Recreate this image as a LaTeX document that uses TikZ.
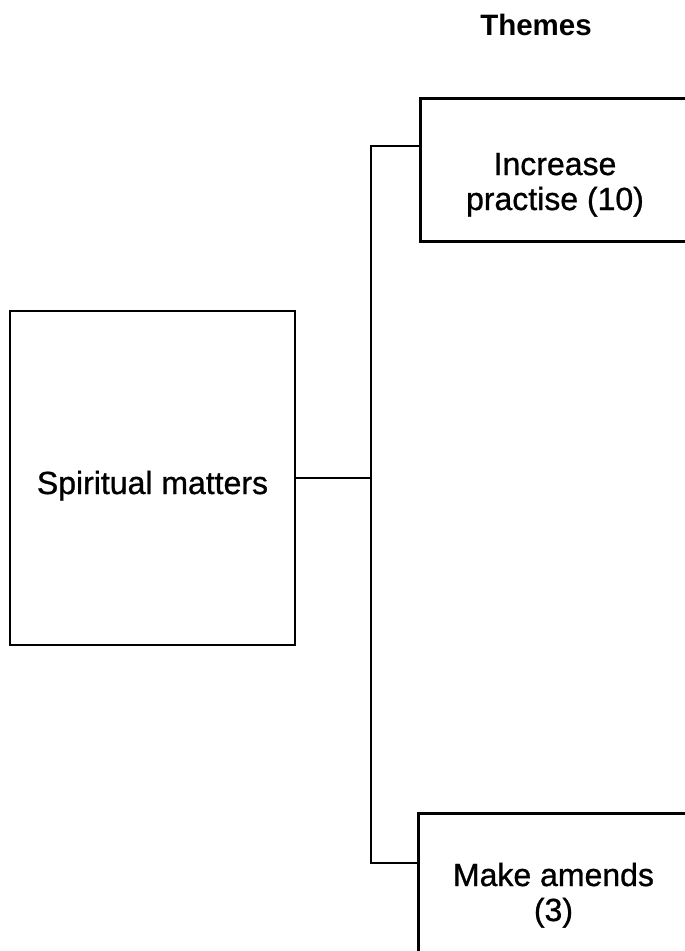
\documentclass[tikz,border=0pt]{standalone}
\usepackage{fontspec}
\setmainfont{Liberation Sans}
\newfontfamily\heavyreg[FakeBold=0.9]{Liberation Sans}
\begin{document}
\begin{tikzpicture}[x=1pt,y=-1pt,
  box/.style={draw, line width=2.6pt, rectangle, inner sep=0pt},
  lbl/.style={font=\heavyreg\fontsize{32}{35}\selectfont, align=center, inner sep=0pt},
  wire/.style={line width=2.6pt}]
\useasboundingbox (0,0) rectangle (685,951);
\clip (0,0) rectangle (685,951);

% heading
\node[font=\fontsize{29.5}{34}\selectfont\bfseries, inner sep=0pt, anchor=base] (title) at (536,35) {Themes};

% root box
\node[box, minimum width=285pt, minimum height=334pt] (sm) at (152.5,478) {};
\node[lbl, anchor=base] (smt) at (152.5,494) {Spiritual matters};

% theme boxes (running past the right edge); base anchor sits on the last line
\node[box, minimum width=272pt, minimum height=143pt, anchor=north west] (ip) at (419,97) {};
\node[lbl, anchor=base] (ipt) at (555,210) {Increase\\practise (10)};

\node[box, minimum width=273pt, minimum height=180pt, anchor=north west] (ma) at (417,812) {};
\node[lbl, anchor=base] (mat) at (553.5,921) {Make amends\\(3)};

% bracket connector
\coordinate (jm) at (371,478);
\coordinate (jt) at (371,146);
\coordinate (jb) at (371,863);
\draw[wire] (sm.east |- jm) -- (jm);
\draw[wire] (ip.west |- jt) -- (jt) -- (jb) -- (ma.west |- jb);
\end{tikzpicture}
\end{document}
